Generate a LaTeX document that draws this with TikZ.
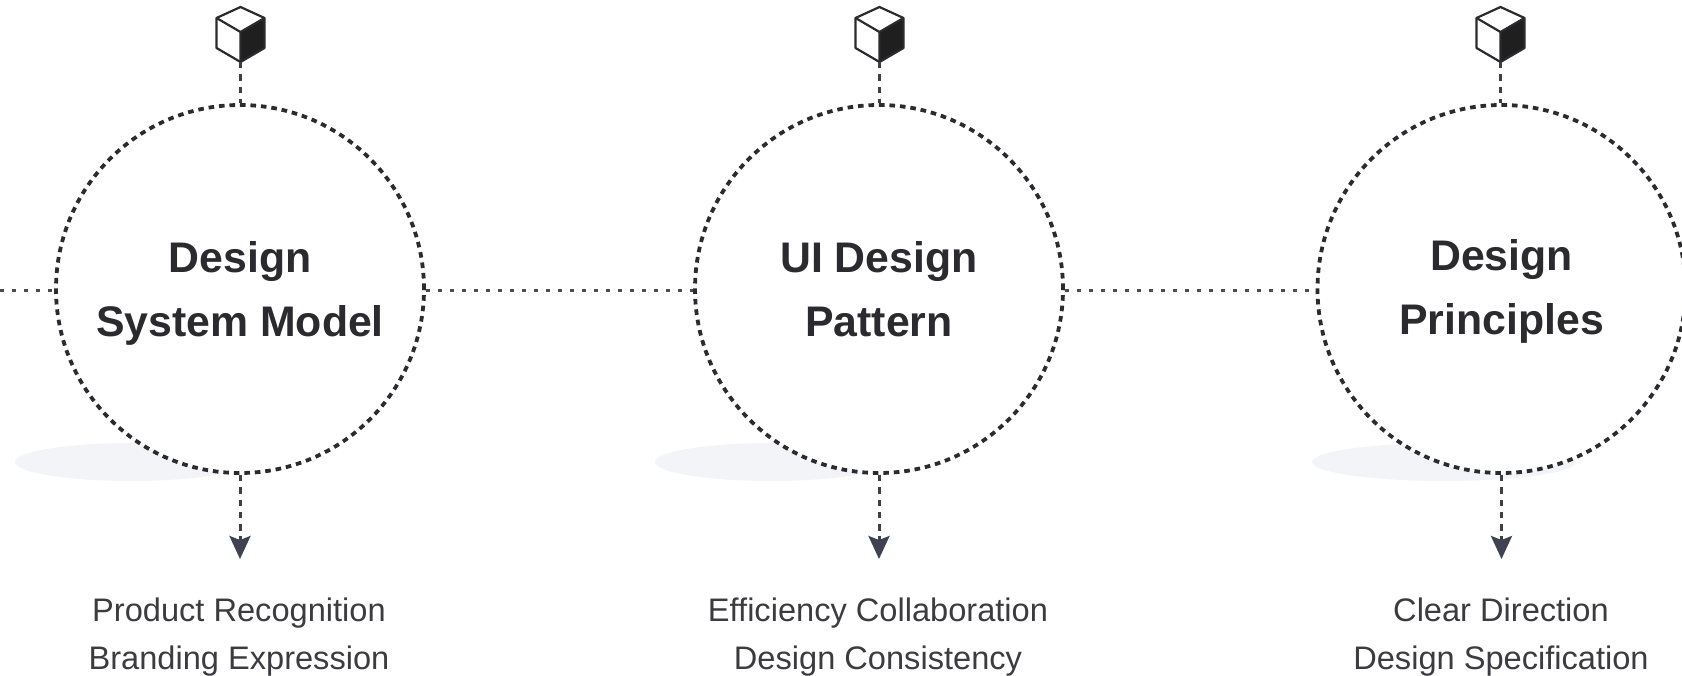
\documentclass[tikz,border=0pt]{standalone}
\usepackage{fontspec}
\setmainfont{Liberation Sans}
\usetikzlibrary{arrows.meta}
\definecolor{ink}{HTML}{2B2B2F}
\definecolor{arrowc}{HTML}{3F4250}
\definecolor{shade}{HTML}{F3F4F8}
\tikzset{
  x=1pt,y=-1pt,
  ring/.style={circle,draw=ink,fill=white,line width=3.8pt,dash pattern=on 5.6pt off 4.9pt,minimum size=368pt,inner sep=0pt},
  ringtext/.style={align=center,text=ink,inner sep=0pt,font=\fontsize{42.8}{64}\selectfont\bfseries},
  link/.style={draw=ink!85!white,line width=2.6pt,dash pattern=on 3.6pt off 8.4pt},
  stem/.style={draw=ink!90!white,line width=3pt,dash pattern=on 6.5pt off 5.8pt},
  flow/.style={stem,-{Stealth[length=23pt,width=21pt,inset=4pt,fill=arrowc,color=arrowc,sep=0pt]}},
  caption/.style={align=center,text=ink!92!white,font=\fontsize{32.6}{48}\selectfont,inner sep=0pt},
  shadow/.style={fill=shade,draw=none},
  cubeedge/.style={draw=ink,line width=2.2pt,line join=round},
}
\newcommand{\cubeat}[3]{%
  \begin{scope}[shift={(#1,0)}]
    \coordinate (#3) at (0,62);
    \fill[black!88] (0,32) -- (24,18) -- (24,48) -- (0,62) -- cycle;
    \draw[cubeedge] (0,7) -- (24,18) -- (24,48) -- (0,62) -- (-24,48) -- (-24,18) -- cycle;
    \draw[cubeedge] (-24,18) -- (0,32) -- (24,18) (0,32) -- (0,62);
  \end{scope}}
\begin{document}
\begin{tikzpicture}
\useasboundingbox (0,0) rectangle (1682,676);
\begin{scope}
\clip (0,0) rectangle (1682,676);
\fill[shadow] (131,462) ellipse [x radius=116,y radius=19];
\fill[shadow] (771,462) ellipse [x radius=116,y radius=19];
\fill[shadow] (1444,462) ellipse [x radius=132,y radius=19];

\coordinate (edge) at (0,290.5);
\node[ring] (a) at (240,289) {};
\node[ring] (b) at (879,289) {};
\node[ring] (c) at (1501.5,289) {};
\node[ringtext] (la) at (240,293.5) {Design\\System Model};
\node[ringtext] (lb) at (879,289) {UI Design\\Pattern};
\node[ringtext] (lc) at (1501.5,291.5) {Design\\Principles};
\draw[link] (edge) -- (edge -| a.west);
\draw[link] (a.east |- edge) -- (b.west |- edge);
\draw[link] (b.east |- edge) -- (c.west |- edge);

\cubeat{240.5}{a}{ca}
\cubeat{879.5}{b}{cb}
\cubeat{1500.5}{c}{cc}
\draw[stem] (ca) -- (ca |- a.north);
\draw[stem] (cb) -- (cb |- b.north);
\draw[stem] (cc) -- (cc |- c.north);

\coordinate (ea) at (240,559);
\coordinate (eb) at (879,559);
\coordinate (ec) at (1501.5,559);
\draw[flow] (a.south) -- (ea);
\draw[flow] (b.south) -- (eb);
\draw[flow] (c.south) -- (ec);

\node[caption] (ta) at (239,637) {Product Recognition\\Branding Expression};
\node[caption] (tb) at (878,637) {Efficiency Collaboration\\Design Consistency};
\node[caption] (tc) at (1501,637) {Clear Direction\\Design Specification};
\end{scope}
\end{tikzpicture}
\end{document}
